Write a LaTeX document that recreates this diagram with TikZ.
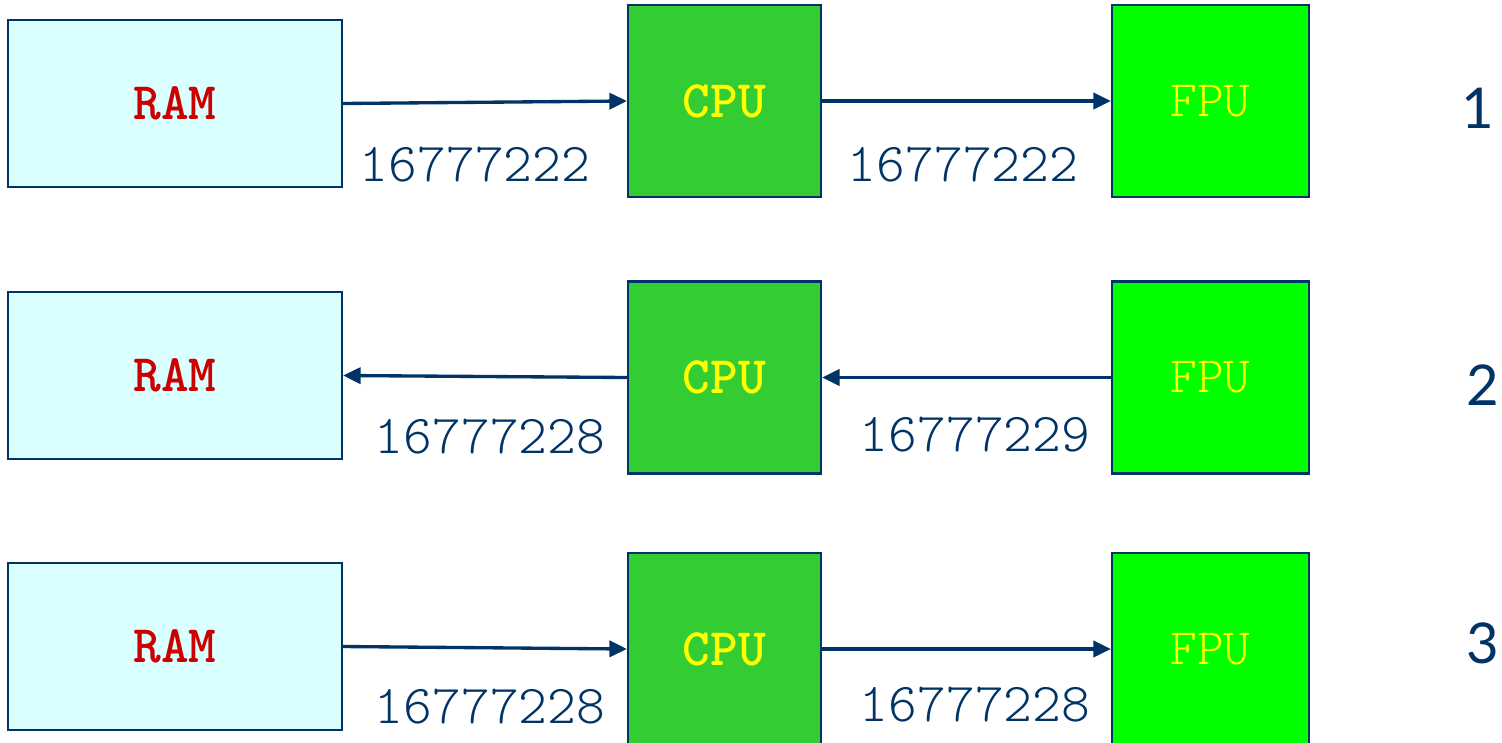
\documentclass[tikz,border=0pt]{standalone}
\usepackage{fontspec}
\setmainfont{Lato}
\usetikzlibrary{arrows.meta,positioning}
\definecolor{navy}{HTML}{003366}
\definecolor{ramfill}{HTML}{D9FFFF}
\definecolor{cpufill}{HTML}{33CC33}
\definecolor{fpufill}{HTML}{00FF00}
\definecolor{ramtext}{HTML}{CC0000}
\definecolor{chiptext}{HTML}{FFFF00}
\tikzset{
  ram/.style ={draw=navy,line width=0.6pt,fill=ramfill,inner sep=0pt,
               minimum width=3.34cm,minimum height=1.67cm,text=ramtext,
               font=\ttfamily\bfseries\fontsize{15}{17}\selectfont},
  cpu/.style ={draw=navy,line width=0.6pt,fill=cpufill,inner sep=0pt,
               minimum width=1.93cm,minimum height=1.92cm,text=chiptext,
               font=\ttfamily\bfseries\fontsize{15}{17}\selectfont},
  fpu/.style ={draw=navy,line width=0.6pt,fill=fpufill,inner sep=0pt,
               minimum width=1.97cm,minimum height=1.92cm,text=chiptext,
               font=\ttfamily\fontseries{l}\fontsize{14.5}{17}\selectfont},
  val/.style ={text=navy,inner sep=0pt,
               font=\ttfamily\fontseries{l}\fontsize{15.6}{18}\selectfont},
  idx/.style ={text=navy,inner sep=0pt,font=\fontsize{16}{18}\selectfont},
  ar/.style  ={draw=navy,line width=0.95pt,-{Triangle[length=5pt,width=4.6pt]}},
}

\begin{document}
\begin{tikzpicture}
\useasboundingbox (0,0) rectangle (15.02,-7.42);
% step 1: RAM -> CPU -> FPU
\node[ram] (ram1) at (1.75,-1.035) {RAM};
\node[cpu] (cpu1) at (7.245,-1.01) {CPU};
\node[fpu] (fpu1) at (12.105,-1.01) {FPU};
\draw[ar] (ram1.east) -- (cpu1.west);
\draw[ar] (cpu1.east) -- (fpu1.west);
\node[val] (v11) at (4.75,-1.65) {16777222};
\node[val] (v12) at (9.63,-1.65) {16777222};
\node[idx] (n1) at (14.78,-1.08) {1};
% step 2: FPU -> CPU -> RAM
\node[ram] (ram2) at (1.75,-3.755) {RAM};
\node[cpu] (cpu2) at (7.245,-3.775) {CPU};
\node[fpu] (fpu2) at (12.105,-3.775) {FPU};
\draw[ar] (cpu2.west) -- (ram2.east);
\draw[ar] (fpu2.west) -- (cpu2.east);
\node[val] (v21) at (4.90,-4.37) {16777228};
\node[val] (v22) at (9.75,-4.35) {16777229};
\node[idx] (n2) at (14.83,-3.85) {2};
% step 3: RAM -> CPU -> FPU again
\node[ram] (ram3) at (1.75,-6.465) {RAM};
\node[cpu] (cpu3) at (7.245,-6.49) {CPU};
\node[fpu] (fpu3) at (12.105,-6.49) {FPU};
\draw[ar] (ram3.east) -- (cpu3.west);
\draw[ar] (cpu3.east) -- (fpu3.west);
\node[val] (v31) at (4.90,-7.07) {16777228};
\node[val] (v32) at (9.75,-7.05) {16777228};
\node[idx] (n3) at (14.83,-6.43) {3};
\end{tikzpicture}
\end{document}
